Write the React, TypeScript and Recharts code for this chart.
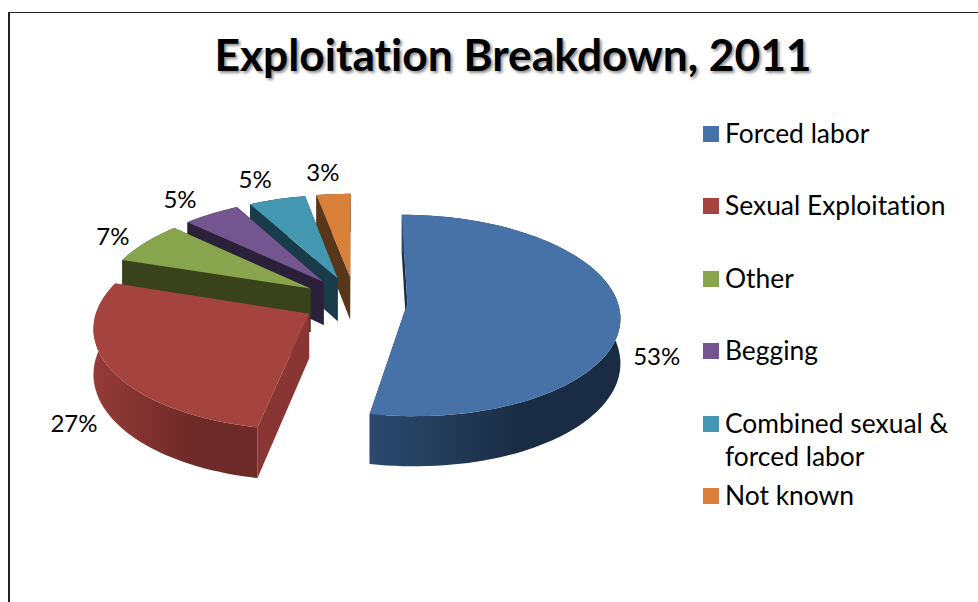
import { PieChart, Pie, Legend } from "recharts";

const categories = [
  "Forced labor",
  "Sexual Exploitation",
  "Other",
  "Begging",
  "Combined sexual & forced labor",
  "Not known",
];
const shares = [53, 27, 7, 5, 5, 3];
const topColors = ["#4672a7", "#a5433f", "#88a44c", "#73558f", "#4397b0", "#d9813a"];
const cutColors = ["#1b2f49", "#893533", "#3a421c", "#2b203a", "#1a3c4a", "#58361a"];
const wallFrom = ["#2b4a6f", "#943b38", "#3a421c", "#2b203a", "#1a3c4a", "#58361a"];
const wallTo = ["#1a2c44", "#6e2a28", "#3a421c", "#2b203a", "#1a3c4a", "#58361a"];

// back-to-front, the slices nearest the viewer have to paint last
const pieData = categories
  .map((name, slot) => ({ name, slot, value: shares[slot], fill: topColors[slot] }))
  .reverse();

// fake 3D
const EXPLODE = 0.25;
const PERSPECTIVE = 0.12;
const TILT = 0.47;
const DEPTH = 44;
const LABEL_REACH = [1.17, 1.17, 1.17, 1.25, 1.3, 1.32];

const rad = (deg: number) => (deg * Math.PI) / 180;

function project(cx: number, cy: number, R: number, x: number, d: number, lift = 0) {
  const s = 1 / (1 - PERSPECTIVE * d);
  return [cx + x * R * s, cy + (TILT * R * d + lift) * s];
}

function path(points: number[][], close = true) {
  const body = points.map((p, i) => `${i ? "L" : "M"}${p[0].toFixed(1)},${p[1].toFixed(1)}`).join("");
  return close ? body + "Z" : body;
}

function PieSlice(props: any) {
  const { cx, cy, outerRadius: R, startAngle, endAngle, fill } = props;
  const slot = props.slot ?? props.payload?.slot;
  const a0 = 90 - startAngle;
  const a1 = 90 - endAngle;
  const mid = rad((a0 + a1) / 2);
  const ox = EXPLODE * Math.sin(mid);
  const od = -EXPLODE * Math.cos(mid);

  const at = (deg: number, r: number, lift = 0) =>
    project(cx, cy, R, ox + r * Math.sin(rad(deg)), od - r * Math.cos(rad(deg)), lift);

  const steps = Math.max(8, Math.ceil(Math.abs(a1 - a0) / 2));
  const angles = Array.from({ length: steps + 1 }, (_, i) => a0 + ((a1 - a0) * i) / steps);
  const rim = angles.map((a) => at(a, 1));
  const rimLow = angles.map((a) => at(a, 1, DEPTH)).reverse();

  const cut = (deg: number) => path([at(0, 0), at(deg, 1), at(deg, 1, DEPTH), at(0, 0, DEPTH)]);

  return (
    <g>
      <defs>
        <linearGradient id={`wall-${slot}`} x1="0" y1="0" x2="1" y2="0">
          <stop offset="0%" stopColor={wallFrom[slot]} />
          <stop offset="60%" stopColor={wallTo[slot]} />
          <stop offset="100%" stopColor={wallTo[slot]} />
        </linearGradient>
      </defs>
      <path d={cut(a0)} fill={cutColors[slot]} />
      <path d={cut(a1)} fill={cutColors[slot]} />
      <path d={path([...rim, ...rimLow])} fill={`url(#wall-${slot})`} />
      <path d={path([at(0, 0), ...rim])} fill={fill} />
    </g>
  );
}

function renderLabel(props: any) {
  const { cx, cy, outerRadius: R, midAngle, value } = props;
  const slot = props.slot ?? props.payload?.slot;
  const reach = LABEL_REACH[slot];
  const m = rad(90 - midAngle);
  const front = Math.cos(m) < 0;
  const ox = EXPLODE * Math.sin(m);
  const od = -EXPLODE * Math.cos(m);
  const [x, y] = project(
    cx,
    cy,
    R,
    ox + reach * Math.sin(m),
    od - reach * Math.cos(m),
    front ? DEPTH - 4 : 0
  );
  return (
    <text
      x={front ? x : x - 6}
      y={y}
      fill="#000"
      textAnchor="middle"
      dominantBaseline="central"
      fontFamily="Lato"
      fontSize={24}
    >
      {value}%
    </text>
  );
}

function renderLegend({ payload }: any) {
  const items = [...(payload || [])].reverse();
  return (
    <div
      style={{
        fontFamily: "Lato",
        fontSize: 26.4,
        lineHeight: "33px",
        color: "#000",
        fontVariantLigatures: "none",
      }}
    >
      {items.map((item: any) => (
        <div key={item.value} style={{ display: "flex", height: 72.4 }}>
          <span
            style={{
              width: 16,
              height: 16,
              marginTop: 9,
              marginRight: 6,
              flexShrink: 0,
              background: item.color,
            }}
          />
          <span style={{ width: 240 }}>{item.value}</span>
        </div>
      ))}
    </div>
  );
}

export default function App() {
  return (
    <div
      style={{
        position: "absolute",
        left: 0,
        top: 0,
        width: 978,
        height: 602,
        overflow: "hidden",
        background: "#fff",
      }}
    >
      <div
        style={{
          position: "absolute",
          left: 8,
          top: 12,
          width: 970,
          height: 590,
          borderTop: "1.5px solid #222",
          borderLeft: "2px solid #222",
          boxSizing: "border-box",
        }}
      />
      <div
        style={{
          position: "absolute",
          left: 0,
          top: 26,
          width: 1026,
          textAlign: "center",
          fontFamily: "Lato",
          fontWeight: 700,
          fontSize: 44.3,
          lineHeight: "56px",
          color: "#000",
          fontVariantLigatures: "none",
          textShadow: "2px 2px 3px rgba(0,0,0,0.45)",
        }}
      >
        Exploitation Breakdown, 2011
      </div>
      <PieChart
        width={978}
        height={602}
        margin={{ top: 0, right: 0, bottom: 0, left: 0 }}
        style={{ position: "absolute", left: 0, top: 0 }}
      >
        <Pie
          data={pieData}
          dataKey="value"
          nameKey="name"
          cx={355}
          cy={301}
          outerRadius={210}
          startAngle={-270}
          endAngle={90}
          paddingAngle={0}
          stroke="none"
          shape={PieSlice}
          label={renderLabel}
          labelLine={false}
          isAnimationActive={false}
        />
        <Legend
          layout="vertical"
          align="right"
          verticalAlign="top"
          itemSorter={null}
          content={renderLegend}
          wrapperStyle={{ left: 703, top: 117, width: 270 }}
        />
      </PieChart>
    </div>
  );
}
